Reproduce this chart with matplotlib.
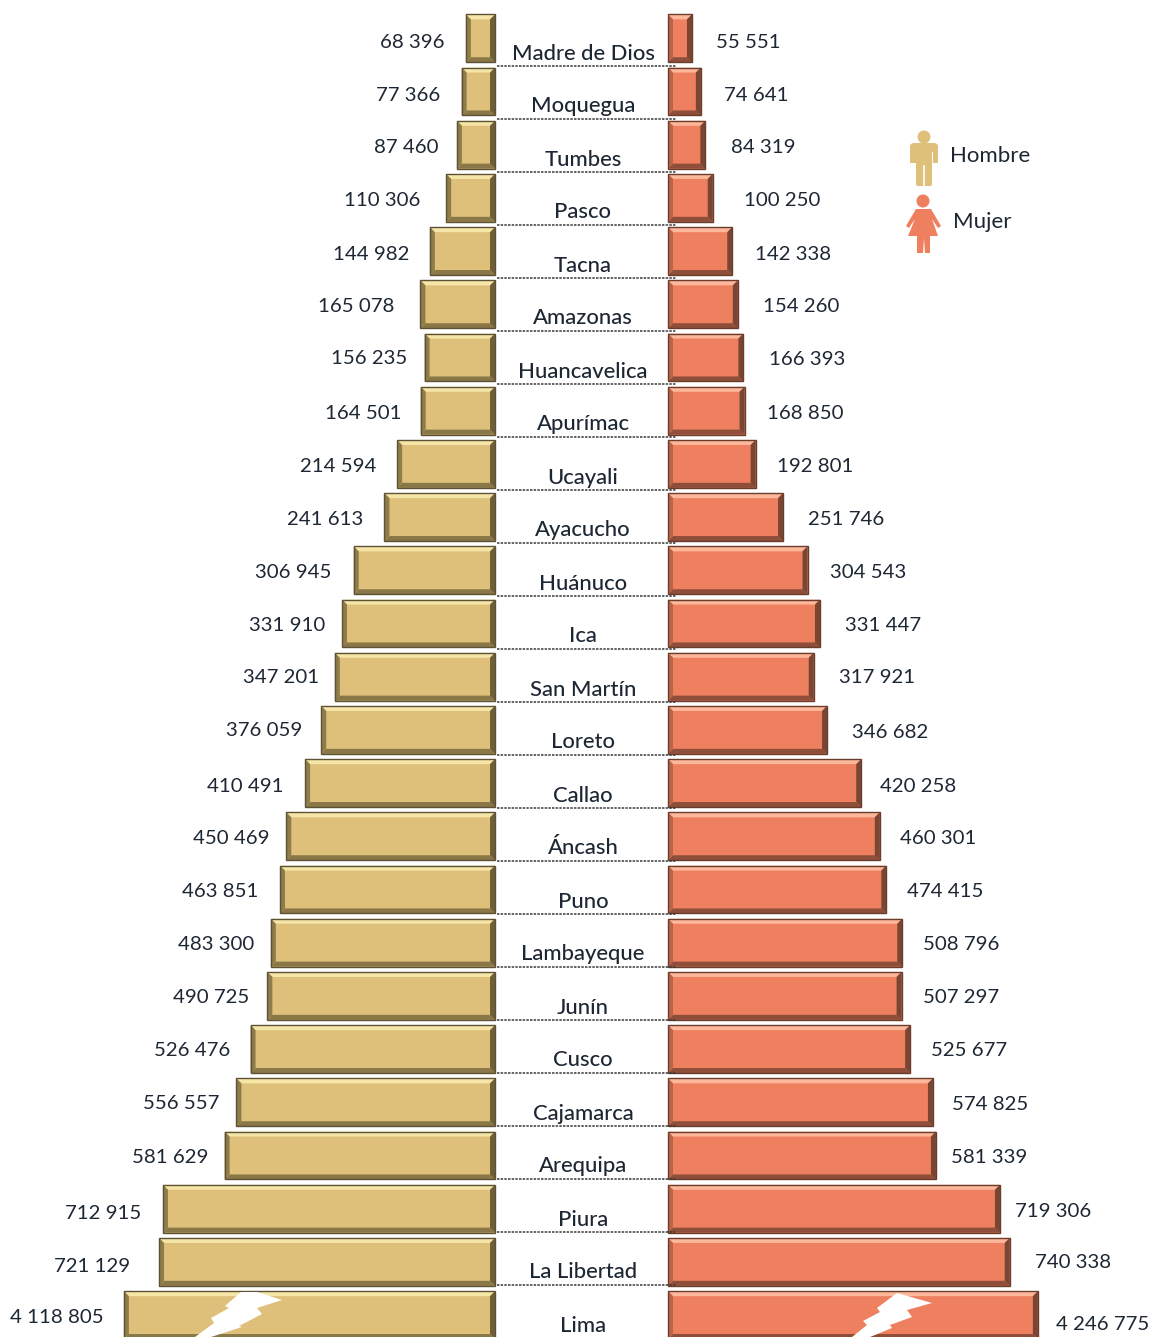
import matplotlib
matplotlib.use('Agg')
import matplotlib.pyplot as plt
from matplotlib.patches import Circle, Polygon, FancyBboxPatch, Rectangle

plt.rcParams['font.family'] = ['Lato', 'DejaVu Sans']

# population by region, smallest on top
regions = ['Madre de Dios', 'Moquegua', 'Tumbes', 'Pasco', 'Tacna', 'Amazonas', 'Huancavelica',
           'Apurímac', 'Ucayali', 'Ayacucho', 'Huánuco', 'Ica', 'San Martín', 'Loreto', 'Callao',
           'Áncash', 'Puno', 'Lambayeque', 'Junín', 'Cusco', 'Cajamarca', 'Arequipa', 'Piura',
           'La Libertad', 'Lima']
hombres = [68396, 77366, 87460, 110306, 144982, 165078, 156235, 164501, 214594, 241613, 306945,
           331910, 347201, 376059, 410491, 450469, 463851, 483300, 490725, 526476, 556557,
           581629, 712915, 721129, 4118805]
mujeres = [55551, 74641, 84319, 100250, 142338, 154260, 166393, 168850, 192801, 251746, 304543,
           331447, 317921, 346682, 420258, 460301, 474415, 508796, 507297, 525677, 574825,
           581339, 719306, 740338, 4246775]
# Lima is drawn with a broken bar, so its length is not its value
lima_hombres_drawn = 796000
lima_mujeres_drawn = 801000

# label tweaks in pixels (the labels in the original were placed by hand)
gap_h = [21, 21, 18, 26, 20, 26, 17, 19, 21, 21, 22, 17, 16, 19, 22, 17, 22, 17, 18, 20, 17, 16, 22, 29, 20]
gap_m = [24, 23, 26, 31, 23, 25, 26, 22, 21, 25, 22, 25, 25, 25, 19, 20, 21, 21, 21, 21, 19, 15, 15, 25, 18]
dy_h = [3, 3, 2, 2, 2, 1.5, 0, 2, 2, 1, 1, 1, 0, 0, 2, 1.5, 1, 1, 0.5, 0, 0, 1, 4, 4, 1]
dy_m = [3, 3, 2, 2, 2, 1.5, 1, 2, 2, 1, 1, 1, 0, 2, 2, 1.5, 1, 1, 0.5, 0, 1, 1, 2, 0, 8]

W, H = 1150, 1337
ORO = '#DEC07A'
CORAL = '#EE8060'
TXT = '#1d2733'
FS = 14.7
FS_REG = 15.8

PX_H = 0.00047   # px per person
PX_M = 0.000464
base_h = 3 / PX_H
base_m = 1.8 / PX_M
PITCH = 53.2
Y0 = 38.3


def fmt(v):
    return f'{v:,}'.replace(',', ' ')


def bevel_bar(ax, i, v, base, px, main, light, side1, side2, dark, edge):
    h = 0.9 / 2
    ax.barh(i, v - base, left=base, height=2 * h, color=main, linewidth=0, zorder=2)
    bx = 5 / px
    by = 5 / PITCH
    # bevel faces around the bar
    ax.fill([base, v, v - bx, base + bx], [i - h, i - h, i - h + by, i - h + by], color=light, lw=0, zorder=3)
    ax.fill([base, v, v - bx, base + bx], [i + h, i + h, i + h - by, i + h - by], color=dark, lw=0, zorder=3)
    ax.fill([v, v, v - bx, v - bx], [i - h, i + h, i + h - by, i - h + by], color=side1, lw=0, zorder=3)
    ax.fill([base, base, base + bx, base + bx], [i - h, i + h, i + h - by, i - h + by], color=side2, lw=0, zorder=3)
    ax.barh(i, v - base, left=base, height=2 * h, facecolor='none', edgecolor=edge, linewidth=1.0, zorder=4)


fig = plt.figure(figsize=(W / 100, H / 100), dpi=100, facecolor='white')
rows = (-Y0 / PITCH, (H - Y0) / PITCH)

ax_h = fig.add_axes([0, 0, 505 / W, 1])
ax_h.set_xlim(498 / PX_H, -7 / PX_H)
ax_m = fig.add_axes([660 / W, 0, 490 / W, 1])
ax_m.set_xlim((660 - 666.2) / PX_M, (W - 666.2) / PX_M)
for ax in (ax_h, ax_m):
    ax.set_ylim(rows[1], rows[0])
    ax.axis('off')

drawn_h = hombres[:-1] + [lima_hombres_drawn]
drawn_m = mujeres[:-1] + [lima_mujeres_drawn]

for i in range(len(regions)):
    bevel_bar(ax_h, i, drawn_h[i], base_h, PX_H, ORO, '#F5E6A8', '#8F7C4B', '#6F5F39', '#8A7747', '#5d5235')
    bevel_bar(ax_m, i, drawn_m[i], base_m, PX_M, CORAL, '#FDB79A', '#7A4634', '#B8654A', '#8E4E39', '#6b3d2c')
    ax_h.annotate(fmt(hombres[i]), xy=(drawn_h[i], i), xytext=(-gap_h[i], -dy_h[i] - 1), textcoords='offset pixels',
                  ha='right', va='center', fontsize=FS, color=TXT, zorder=5)
    ax_m.annotate(fmt(mujeres[i]), xy=(drawn_m[i], i), xytext=(gap_m[i], -dy_m[i] - 1), textcoords='offset pixels',
                  ha='left', va='center', fontsize=FS, color=TXT, zorder=5)

# centre column: region names sitting on dashed lines
ax_c = fig.add_axes([0, 0, 1, 1])
ax_c.patch.set_alpha(0)
ax_c.set_xlim(0, W)
ax_c.set_ylim(H, 0)
ax_c.axis('off')
for i, name in enumerate(regions):
    yy = 66 + 53 * i
    ax_c.text(583, yy - 12.5, name, ha='center', va='center', fontsize=FS_REG, fontweight='medium', color=TXT, zorder=6)
    if i < len(regions) - 1:
        ax_c.plot([497, 676], [yy, yy], color='#3a3a3a', lw=1.1, ls=(0, (1.6, 0.8)), zorder=6)

# lightning bolts marking the broken Lima bars
bolt_h = [(241, 1292), (257, 1292), (282, 1300), (257, 1308), (262, 1314), (239, 1326), (242, 1327),
          (211, 1337), (195, 1337), (214, 1323), (211, 1318), (229, 1308), (225, 1306)]
bolt_m = [(897, 1293), (932, 1303), (907, 1310), (912, 1317), (890, 1325), (892, 1328), (870, 1337),
          (852, 1337), (867, 1325), (863, 1321), (880, 1312), (877, 1308)]
ax_c.add_patch(Polygon(bolt_h, color='white', lw=0, zorder=7))
ax_c.add_patch(Polygon(bolt_m, color='white', lw=0, zorder=7))

# legend pictograms
ax_c.add_patch(Circle((924, 137), 6.5, color=ORO, lw=0))
ax_c.add_patch(FancyBboxPatch((910, 143), 28, 9, boxstyle='round,pad=0,rounding_size=4', color=ORO, lw=0))
ax_c.add_patch(Rectangle((910, 147), 5.5, 16, color=ORO, lw=0))
ax_c.add_patch(Rectangle((932.5, 147), 5.5, 16, color=ORO, lw=0))
ax_c.add_patch(FancyBboxPatch((916, 145), 16, 41, boxstyle='round,pad=0,rounding_size=2', color=ORO, lw=0))
ax_c.plot([924, 924], [166, 187], color='white', lw=1.2)
ax_c.add_patch(Circle((923, 201), 6.5, color=CORAL, lw=0))
ax_c.add_patch(Polygon([(916, 209), (931, 209), (941, 226), (938, 228), (932, 219), (938, 236), (908, 236), (915, 219),
                        (909, 228), (906, 226)], color=CORAL, lw=0))
ax_c.add_patch(Polygon([(917, 236), (930, 236), (930, 253), (925, 253), (924, 238), (923, 253), (917, 253)],
                       color=CORAL, lw=0))
ax_c.text(950, 156.5, 'Hombre', ha='left', va='center', fontsize=FS_REG + 0.2, color=TXT)
ax_c.text(953, 222.5, 'Mujer', ha='left', va='center', fontsize=FS_REG + 0.2, color=TXT)

fig.savefig('out.png', dpi=100)
